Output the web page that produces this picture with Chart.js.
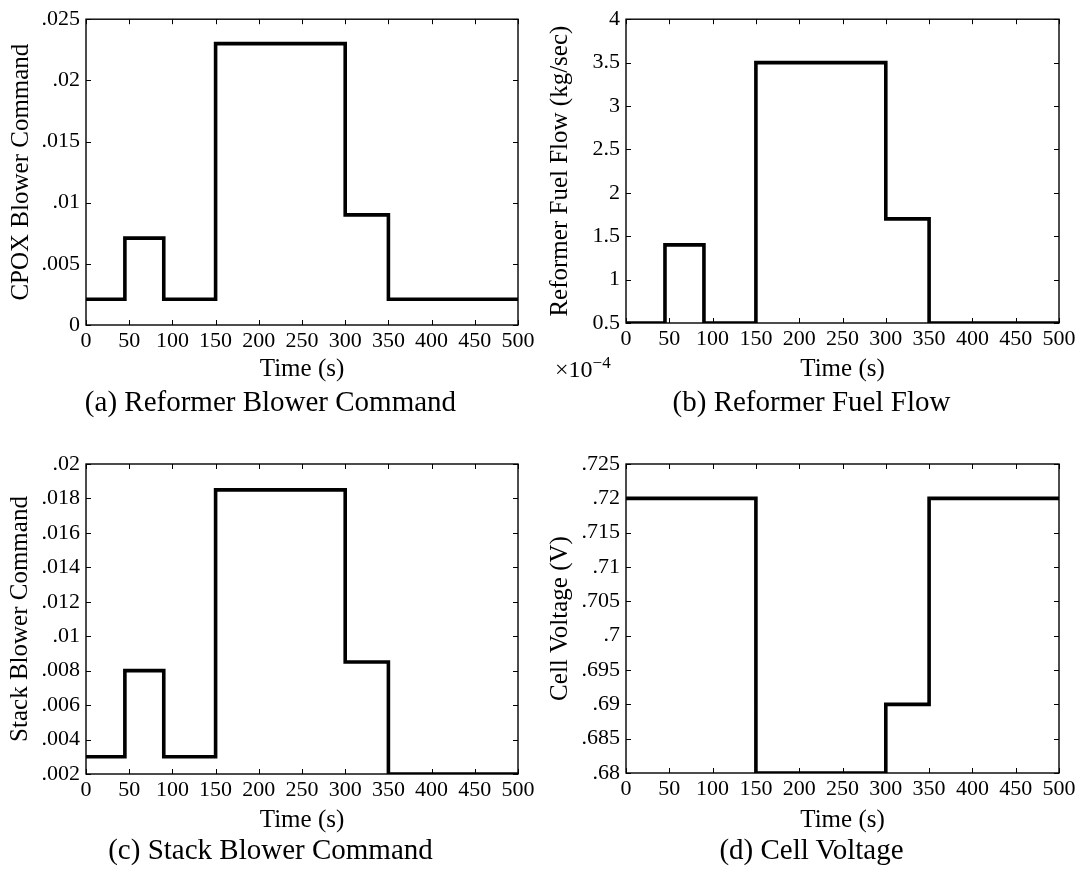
<!DOCTYPE html>
<html>
<head>
<meta charset="utf-8">
<script src="https://cdn.jsdelivr.net/npm/chart.js@4.4.0/dist/chart.umd.min.js"></script>
<style>
  body { margin: 0; background: #fff; font-family: "Liberation Serif", serif; color: #000; }
  .page { position: relative; width: 1083px; height: 869px; overflow: hidden; }
  .panel { position: absolute; width: 541px; height: 434px; }
  .caption { position: absolute; width: 541px; text-align: center; font-size: 29px; line-height: 32px; }
  .scale-note { position: absolute; left: 555px; top: 353px; font-size: 24px; }
  .scale-note sup { font-size: 17px; }
</style>
</head>
<body>
<div class="page">
  <div class="panel" style="left:0;top:0"><canvas id="chartA" width="541" height="434"></canvas></div>
  <div class="panel" style="left:541px;top:0"><canvas id="chartB" width="541" height="434"></canvas></div>
  <div class="panel" style="left:0;top:434px"><canvas id="chartC" width="541" height="434"></canvas></div>
  <div class="panel" style="left:541px;top:434px"><canvas id="chartD" width="541" height="434"></canvas></div>

  <div class="caption" style="left:0;top:385px">(a) Reformer Blower Command</div>
  <div class="caption" style="left:541px;top:385px">(b) Reformer Fuel Flow</div>
  <div class="caption" style="left:0;top:833px">(c) Stack Blower Command</div>
  <div class="caption" style="left:541px;top:833px">(d) Cell Voltage</div>
  <div class="scale-note">&times;10<sup>&minus;4</sup></div>
</div>

<script>
// step change times (s) shared by all four signals
const stepTimes = [0, 45, 90, 150, 300, 350, 500];

const cpoxCommand  = [0.0021, 0.0071, 0.0021, 0.023, 0.009, 0.0021, 0.0021];
const fuelFlow     = [0.5, 1.4, 0.5, 3.5, 1.7, 0.5, 0.5]; // x 1e-4 kg/sec
const stackCommand = [0.003, 0.008, 0.003, 0.0185, 0.0085, 0.002, 0.002];
const cellVoltage  = [0.72, 0.72, 0.72, 0.68, 0.69, 0.72, 0.72];

const timeTicks = [0, 50, 100, 150, 200, 250, 300, 350, 400, 450, 500];

const cpoxTicks = [0, 0.005, 0.01, 0.015, 0.02, 0.025];
const cpoxTickLabels = ['0', '.005', '.01', '.015', '.02', '.025'];

const fuelTicks = [0.5, 1, 1.5, 2, 2.5, 3, 3.5, 4];
const fuelTickLabels = ['0.5', '1', '1.5', '2', '2.5', '3', '3.5', '4'];

const stackTicks = [0.002, 0.004, 0.006, 0.008, 0.01, 0.012, 0.014, 0.016, 0.018, 0.02];
const stackTickLabels = ['.002', '.004', '.006', '.008', '.01', '.012', '.014', '.016', '.018', '.02'];

const voltageTicks = [0.68, 0.685, 0.69, 0.695, 0.7, 0.705, 0.71, 0.715, 0.72, 0.725];
const voltageTickLabels = ['.68', '.685', '.69', '.695', '.7', '.705', '.71', '.715', '.72', '.725'];

const TICK_FONT = { family: '"Liberation Serif", serif', size: 22 };
const TITLE_FONT = { family: '"Liberation Serif", serif', size: 25 };

// matlab style box with ticks pointing inwards on all four sides
const boxTicks = {
  id: 'boxTicks',
  afterDraw(chart) {
    const { ctx, chartArea: a, scales: { x, y } } = chart;
    const len = 5;
    ctx.save();
    ctx.strokeStyle = '#000';
    ctx.lineWidth = 1;
    ctx.beginPath();
    x.ticks.forEach(function(t) {
      const px = Math.round(x.getPixelForValue(t.value)) + 0.5;
      ctx.moveTo(px, a.bottom); ctx.lineTo(px, a.bottom - len);
      ctx.moveTo(px, a.top); ctx.lineTo(px, a.top + len);
    });
    y.ticks.forEach(function(t) {
      const py = Math.round(y.getPixelForValue(t.value)) + 0.5;
      ctx.moveTo(a.left, py); ctx.lineTo(a.left + len, py);
      ctx.moveTo(a.right, py); ctx.lineTo(a.right - len, py);
    });
    ctx.stroke();
    ctx.lineWidth = 1.4;
    ctx.strokeRect(a.left, a.top, a.right - a.left, a.bottom - a.top);
    ctx.restore();
  }
};

function makePanel(id, opts) {
  const ctx = document.getElementById(id).getContext('2d');
  return new Chart(ctx, {
    type: 'line',
    data: {
      datasets: [{
        data: stepTimes.map(function(t, i) { return { x: t, y: opts.values[i] }; }),
        borderColor: '#000',
        borderWidth: 3.6,
        borderJoinStyle: 'miter',
        borderCapStyle: 'butt',
        pointRadius: 0,
        stepped: 'before',
        clip: 0,
      }]
    },
    options: {
      responsive: false,
      animation: false,
      events: [],
      layout: { padding: { top: opts.top, right: 541 - opts.right, left: 0, bottom: 0 } },
      plugins: { legend: { display: false }, tooltip: { enabled: false } },
      scales: {
        x: {
          type: 'linear',
          min: 0,
          max: 500,
          grid: { display: false, drawTicks: false },
          border: { display: false },
          afterBuildTicks: function(s) { s.ticks = timeTicks.map(function(v) { return { value: v }; }); },
          afterFit: function(s) { s.height = 434 - opts.bottom; },
          ticks: {
            autoSkip: false, maxRotation: 0, padding: 3, color: '#000', font: TICK_FONT,
            callback: function(v) { return String(v); }
          },
          title: {
            display: true, text: 'Time (s)', color: '#000', font: TITLE_FONT,
            padding: { top: 0, bottom: opts.xTitlePad }
          }
        },
        y: {
          type: 'linear',
          min: opts.ticks[0],
          max: opts.ticks[opts.ticks.length - 1],
          grid: { display: false, drawTicks: false },
          border: { display: false },
          afterBuildTicks: function(s) { s.ticks = opts.ticks.map(function(v) { return { value: v }; }); },
          afterFit: function(s) { s.width = opts.left; },
          ticks: {
            autoSkip: false, padding: 6, color: '#000', font: TICK_FONT,
            callback: function(v, i) { return opts.tickLabels[i]; }
          },
          title: {
            display: true, text: opts.yTitle, color: '#000', font: TITLE_FONT,
            padding: { top: opts.yTitlePad, bottom: 0 }
          }
        }
      }
    },
    plugins: [boxTicks]
  });
}

makePanel('chartA', {
  values: cpoxCommand, ticks: cpoxTicks, tickLabels: cpoxTickLabels,
  yTitle: 'CPOX Blower Command',
  left: 86, right: 518, top: 15, bottom: 325, xTitlePad: 50, yTitlePad: 6
});

makePanel('chartB', {
  values: fuelFlow, ticks: fuelTicks, tickLabels: fuelTickLabels,
  yTitle: 'Reformer Fuel Flow (kg/sec)',
  left: 85, right: 518, top: 19, bottom: 323, xTitlePad: 50, yTitlePad: 4
});

makePanel('chartC', {
  values: stackCommand, ticks: stackTicks, tickLabels: stackTickLabels,
  yTitle: 'Stack Blower Command',
  left: 86, right: 518, top: 30, bottom: 340, xTitlePad: 33, yTitlePad: 5
});

makePanel('chartD', {
  values: cellVoltage, ticks: voltageTicks, tickLabels: voltageTickLabels,
  yTitle: 'Cell Voltage (V)',
  left: 85, right: 518, top: 30, bottom: 339, xTitlePad: 33, yTitlePad: 4
});
</script>
</body>
</html>
